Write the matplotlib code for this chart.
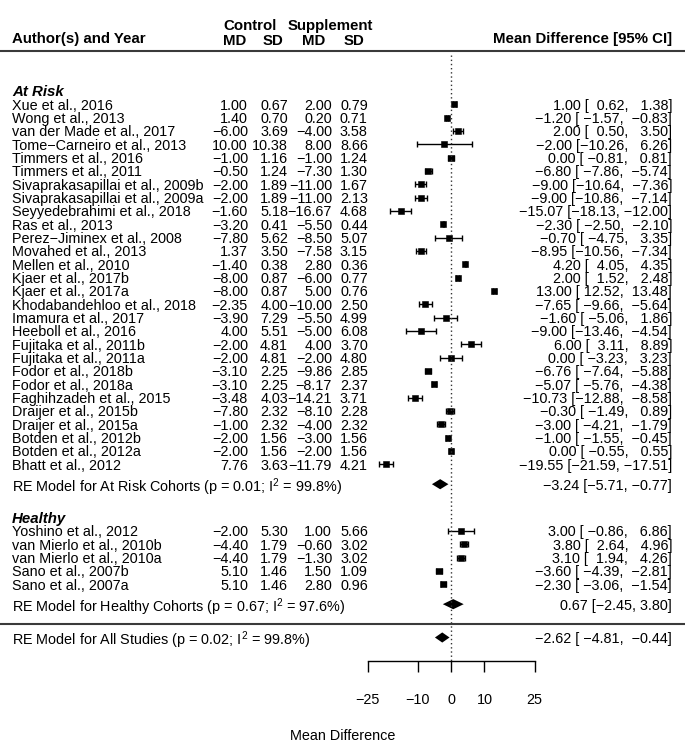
import numpy as np
import matplotlib.pyplot as plt

plt.rcParams['font.family'] = ['Liberation Sans', 'DejaVu Sans']

# ---------------- data ----------------
risk_studies = [
    "Xue et al., 2016", "Wong et al., 2013", "van der Made et al., 2017",
    "Tome\u2212Carneiro et al., 2013", "Timmers et al., 2016", "Timmers et al., 2011",
    "Sivaprakasapillai et al., 2009b", "Sivaprakasapillai et al., 2009a",
    "Seyyedebrahimi et al., 2018", "Ras et al., 2013", "Perez\u2212Jiminex et al., 2008",
    "Movahed et al., 2013", "Mellen et al., 2010", "Kjaer et al., 2017b",
    "Kjaer et al., 2017a", "Khodabandehloo et al., 2018", "Imamura et al., 2017",
    "Heeboll et al., 2016", "Fujitaka et al., 2011b", "Fujitaka et al., 2011a",
    "Fodor et al., 2018b", "Fodor et al., 2018a", "Faghihzadeh et al., 2015",
    "Draijer et al., 2015b", "Draijer et al., 2015a", "Botden et al., 2012b",
    "Botden et al., 2012a", "Bhatt et al., 2012",
]
risk_ctrl_md = [1.00, 1.40, -6.00, 10.00, -1.00, -0.50, -2.00, -2.00, -1.60, -3.20,
                -7.80, 1.37, -1.40, -8.00, -8.00, -2.35, -3.90, 4.00, -2.00, -2.00,
                -3.10, -3.10, -3.48, -7.80, -1.00, -2.00, -2.00, 7.76]
risk_ctrl_sd = [0.67, 0.70, 3.69, 10.38, 1.16, 1.24, 1.89, 1.89, 5.18, 0.41,
                5.62, 3.50, 0.38, 0.87, 0.87, 4.00, 7.29, 5.51, 4.81, 4.81,
                2.25, 2.25, 4.03, 2.32, 2.32, 1.56, 1.56, 3.63]
risk_supp_md = [2.00, 0.20, -4.00, 8.00, -1.00, -7.30, -11.00, -11.00, -16.67, -5.50,
                -8.50, -7.58, 2.80, -6.00, 5.00, -10.00, -5.50, -5.00, 4.00, -2.00,
                -9.86, -8.17, -14.21, -8.10, -4.00, -3.00, -2.00, -11.79]
risk_supp_sd = [0.79, 0.71, 3.58, 8.66, 1.24, 1.30, 1.67, 2.13, 4.68, 0.44,
                5.07, 3.15, 0.36, 0.77, 0.76, 2.50, 4.99, 6.08, 3.70, 4.80,
                2.85, 2.37, 3.71, 2.28, 2.32, 1.56, 1.56, 4.21]
risk_est = [1.00, -1.20, 2.00, -2.00, 0.00, -6.80, -9.00, -9.00, -15.07, -2.30,
            -0.70, -8.95, 4.20, 2.00, 13.00, -7.65, -1.60, -9.00, 6.00, 0.00,
            -6.76, -5.07, -10.73, -0.30, -3.00, -1.00, 0.00, -19.55]
risk_lb = [0.62, -1.57, 0.50, -10.26, -0.81, -7.86, -10.64, -10.86, -18.13, -2.50,
           -4.75, -10.56, 4.05, 1.52, 12.52, -9.66, -5.06, -13.46, 3.11, -3.23,
           -7.64, -5.76, -12.88, -1.49, -4.21, -1.55, -0.55, -21.59]
risk_ub = [1.38, -0.83, 3.50, 6.26, 0.81, -5.74, -7.36, -7.14, -12.00, -2.10,
           3.35, -7.34, 4.35, 2.48, 13.48, -5.64, 1.86, -4.54, 8.89, 3.23,
           -5.88, -4.38, -8.58, 0.89, -1.79, -0.45, 0.55, -17.51]

healthy_studies = ["Yoshino et al., 2012", "van Mierlo et al., 2010b",
                   "van Mierlo et al., 2010a", "Sano et al., 2007b", "Sano et al., 2007a"]
healthy_ctrl_md = [-2.00, -4.40, -4.40, 5.10, 5.10]
healthy_ctrl_sd = [5.30, 1.79, 1.79, 1.46, 1.46]
healthy_supp_md = [1.00, -0.60, -1.30, 1.50, 2.80]
healthy_supp_sd = [5.66, 3.02, 3.02, 1.09, 0.96]
healthy_est = [3.00, 3.80, 3.10, -3.60, -2.30]
healthy_lb = [-0.86, 2.64, 1.94, -4.39, -3.06]
healthy_ub = [6.86, 4.96, 4.26, -2.81, -1.54]

# pooled estimates: est, lb, ub, p, I2
re_risk = (-3.24, -5.71, -0.77, "0.01", "99.8")
re_healthy = (0.67, -2.45, 3.80, "0.67", "97.6")
re_all = (-2.62, -4.81, -0.44, "0.02", "99.8")

xticks = [-25, -10, 0, 10, 25]

# ---------------- layout ----------------
FS = 10.4
FS_HDR = 10.8
x_lab = -131.4                      # study labels
x_ilab = [-60.8, -48.8, -35.6, -24.9]  # ilab columns (right aligned)
x_hdr = [-64.8, -53.3, -41.2, -28.9]
x_ci = 66.2                         # right text column

n1, n2 = len(risk_studies), len(healthy_studies)
rows_risk = np.arange(n1)
y_re_risk = n1 + 0.5
y_hdr_healthy = n1 + 3
rows_healthy = np.arange(n2) + n1 + 4
y_re_healthy = n1 + n2 + 4.5
y_sep = y_re_healthy + 1.5
y_re_all = y_sep + 1
y_axis = y_re_all + 1.75


def fmt(v, w=0):
    return f"{v:{w}.2f}".replace('-', '\u2212')


fig = plt.figure(figsize=(6.85, 7.43), dpi=100)
ax = fig.add_axes([0, 0, 1, 1])
ax.set_xlim(-451 / 3.34, 234 / 3.34)
ax.set_ylim(638.7 / 13.33, -104.3 / 13.33)

txt = dict(fontsize=FS, va='center_baseline')
hdr = dict(fontsize=FS_HDR, va='center_baseline', fontweight='bold')

# headers
ax.text(x_lab, -5, "Author(s) and Year", ha='left', **hdr)
ax.text(x_ci, -5, "Mean Difference [95% CI]", ha='right', **hdr)
ax.text(-60.2, -5.95, "Control", ha='center', **hdr)
ax.text(-36.2, -5.95, "Supplement", ha='center', **hdr)
for xh, lab in zip(x_hdr, ["MD", "SD", "MD", "SD"]):
    ax.text(xh, -4.85, lab, ha='center', **hdr)

ax.axhline(-4, color='#3a3a3a', lw=1.5)
ax.axhline(y_sep, color='#3a3a3a', lw=1.5)

ax.text(x_lab, -1, "At Risk", ha='left', fontstyle='italic', **hdr)
ax.text(x_lab, y_hdr_healthy, "Healthy", ha='left', fontstyle='italic', **hdr)


def draw_group(rows, names, cols, est, lb, ub):
    est, lb, ub = np.array(est), np.array(lb), np.array(ub)
    ax.errorbar(est, rows, xerr=[est - lb, ub - est], fmt='none', ecolor='black',
                elinewidth=1, capsize=2.5, capthick=1)
    ax.plot(est, rows, 's', ms=4.7, color='black', mew=0.4)
    for i, r in enumerate(rows):
        ax.text(x_lab, r, names[i], ha='left', **txt)
        for xc, col in zip(x_ilab, cols):
            ax.text(xc, r, fmt(col[i]), ha='right', **txt)
        ax.text(x_ci, r, f"{fmt(est[i], 6)} [{fmt(lb[i], 6)}, {fmt(ub[i], 6)}]",
                ha='right', **txt)


draw_group(rows_risk, risk_studies,
           [risk_ctrl_md, risk_ctrl_sd, risk_supp_md, risk_supp_sd],
           risk_est, risk_lb, risk_ub)
draw_group(rows_healthy, healthy_studies,
           [healthy_ctrl_md, healthy_ctrl_sd, healthy_supp_md, healthy_supp_sd],
           healthy_est, healthy_lb, healthy_ub)


def diamond(y, res, label, width=0):
    e, l, u, p, i2 = res
    h = 0.38
    ax.fill([l, e, u, e], [y, y - h, y, y + h], color='black', lw=0)
    ax.text(x_lab, y, f"RE Model for {label} (p = {p}; I$\\mathregular{{^2}}$ = {i2}%)",
            ha='left', **txt)
    ax.text(x_ci, y, f"{fmt(e, width)} [{fmt(l, width)}, {fmt(u, width)}]", ha='right', **txt)


diamond(y_re_risk, re_risk, "At Risk Cohorts")
diamond(y_re_healthy, re_healthy, "Healthy Cohorts")
diamond(y_re_all, re_all, "All Studies", width=6)

# reference line
ax.plot([0, 0], [-3.7, y_axis], color='#333333', lw=1, ls=(0, (1, 2)))

# x axis
for s in ['left', 'right', 'top']:
    ax.spines[s].set_visible(False)
ax.spines['bottom'].set_position(('data', y_axis))
ax.spines['bottom'].set_bounds(xticks[0], xticks[-1])
ax.spines['bottom'].set_linewidth(1)
ax.set_yticks([])
ax.set_xticks(xticks)
ax.set_xticklabels([fmt(t).replace('.00', '') for t in xticks])
ax.tick_params(axis='x', direction='out', length=7.9, width=1, pad=15, labelsize=FS)
ax.set_xlabel("Mean Difference", fontsize=FS, labelpad=16)

fig.savefig("out.png", dpi=100)
